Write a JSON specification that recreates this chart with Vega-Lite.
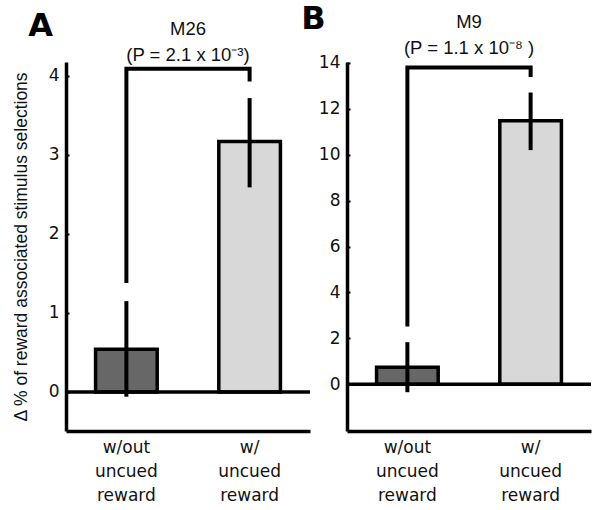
{
  "$schema": "https://vega.github.io/schema/vega-lite/v6.json",
  "padding": {"left": 12, "top": 3, "right": 5, "bottom": 3},
  "spacing": -11,
  "config": {
    "font": "DejaVu Sans",
    "view": {"stroke": null},
    "axis": {"grid": false, "domainColor": "black", "domainWidth": 3.5, "labelColor": "#111", "labelFont": "DejaVu Sans", "labelFontSize": 17, "titleFont": "Liberation Sans", "titleFontSize": 17.5, "titleFontWeight": "normal", "titleColor": "#111"}
  },
  "datasets": {
    "barsA": [
      {"cond": "w/out|uncued|reward", "mean": 0.54, "lo": -0.06, "hi": 1.15},
      {"cond": "w/|uncued|reward", "mean": 3.17, "lo": 2.59, "hi": 3.72}
    ],
    "bracketA": [
      {"cond": "w/out|uncued|reward", "y": 1.38, "ord": 1},
      {"cond": "w/out|uncued|reward", "y": 4.09, "ord": 2},
      {"cond": "w/|uncued|reward", "y": 4.09, "ord": 3},
      {"cond": "w/|uncued|reward", "y": 3.93, "ord": 4}
    ],
    "barsB": [
      {"cond": "w/out|uncued|reward", "mean": 0.74, "lo": -0.35, "hi": 1.83},
      {"cond": "w/|uncued|reward", "mean": 11.48, "lo": 10.2, "hi": 12.71}
    ],
    "bracketB": [
      {"cond": "w/out|uncued|reward", "y": 2.51, "ord": 1},
      {"cond": "w/out|uncued|reward", "y": 13.8, "ord": 2},
      {"cond": "w/|uncued|reward", "y": 13.8, "ord": 3},
      {"cond": "w/|uncued|reward", "y": 13.39, "ord": 4}
    ]
  },
  "hconcat": [
    {
      "title": {"text": "A", "anchor": "start", "frame": "bounds", "font": "DejaVu Sans", "fontSize": 32, "fontWeight": "bold", "color": "black", "offset": -23, "dx": 16},
      "vconcat": [
        {
          "width": 244,
          "height": 369,
          "title": {"text": ["M26", "(P = 2.1 x 10⁻³)"], "anchor": "middle", "frame": "group", "font": "Liberation Sans", "fontSize": 18.5, "fontWeight": "normal", "color": "#111", "lineHeight": 26, "offset": -4},
          "layer": [
            {
              "data": {"name": "barsA"},
              "mark": {"type": "bar", "stroke": "black", "strokeWidth": 3.5},
              "encoding": {
                "x": {"field": "cond", "type": "nominal",
                  "scale": {"domain": ["w/out|uncued|reward", "w/|uncued|reward"], "paddingInner": 0.5, "paddingOuter": 0.24},
                  "axis": {"title": null, "labelAngle": 0, "labelExpr": "split(datum.label, '|')", "labelLineHeight": 24, "labelPadding": 8, "ticks": false}},
                "y": {"field": "mean", "type": "quantitative",
                  "scale": {"domain": [-0.494, 4.177], "nice": false, "zero": false},
                  "axis": {"title": "Δ % of reward associated stimulus selections", "values": [0, 1, 2, 3, 4], "format": "d", "tickSize": -3, "tickWidth": 2, "tickColor": "black", "labelPadding": 10, "titlePadding": 18}},
                "y2": {"datum": 0},
                "fill": {"field": "cond", "type": "nominal", "scale": {"domain": ["w/out|uncued|reward", "w/|uncued|reward"], "range": ["#676767", "#d8d8d8"]}, "legend": null}
              }
            },
            {
              "data": {"values": [{}]},
              "mark": {"type": "rule", "color": "black", "strokeWidth": 3.5},
              "encoding": {"y": {"datum": 0}}
            },
            {
              "data": {"name": "barsA"},
              "mark": {"type": "rule", "color": "black", "strokeWidth": 4},
              "encoding": {
                "x": {"field": "cond", "type": "nominal"},
                "y": {"field": "lo", "type": "quantitative"},
                "y2": {"field": "hi"}
              }
            },
            {
              "data": {"name": "bracketA"},
              "mark": {"type": "line", "color": "black", "strokeWidth": 4, "strokeJoin": "miter", "strokeCap": "butt"},
              "encoding": {
                "x": {"field": "cond", "type": "nominal"},
                "y": {"field": "y", "type": "quantitative"},
                "order": {"field": "ord", "type": "quantitative"}
              }
            }
          ]
        }
      ]
    },
    {
      "title": {"text": "B", "anchor": "start", "frame": "bounds", "font": "DejaVu Sans", "fontSize": 32, "fontWeight": "bold", "color": "black", "offset": -23, "dx": -17},
      "vconcat": [
        {
          "width": 244,
          "height": 369,
          "title": {"text": ["M9", "(P = 1.1 x 10⁻⁸ )"], "anchor": "middle", "frame": "group", "font": "Liberation Sans", "fontSize": 18.5, "fontWeight": "normal", "color": "#111", "lineHeight": 26, "offset": -4},
          "layer": [
            {
              "data": {"name": "barsB"},
              "mark": {"type": "bar", "stroke": "black", "strokeWidth": 3.5},
              "encoding": {
                "x": {"field": "cond", "type": "nominal",
                  "scale": {"domain": ["w/out|uncued|reward", "w/|uncued|reward"], "paddingInner": 0.5, "paddingOuter": 0.24},
                  "axis": {"title": null, "labelAngle": 0, "labelExpr": "split(datum.label, '|')", "labelLineHeight": 24, "labelPadding": 8, "ticks": false}},
                "y": {"field": "mean", "type": "quantitative",
                  "scale": {"domain": [-2.04, 14.04], "nice": false, "zero": false},
                  "axis": {"title": null, "values": [0, 2, 4, 6, 8, 10, 12, 14], "format": "d", "tickSize": -3, "tickWidth": 2, "tickColor": "black", "labelPadding": 10}},
                "y2": {"datum": 0},
                "fill": {"field": "cond", "type": "nominal", "scale": {"domain": ["w/out|uncued|reward", "w/|uncued|reward"], "range": ["#676767", "#d8d8d8"]}, "legend": null}
              }
            },
            {
              "data": {"values": [{}]},
              "mark": {"type": "rule", "color": "black", "strokeWidth": 3.5},
              "encoding": {"y": {"datum": 0}}
            },
            {
              "data": {"name": "barsB"},
              "mark": {"type": "rule", "color": "black", "strokeWidth": 4},
              "encoding": {
                "x": {"field": "cond", "type": "nominal"},
                "y": {"field": "lo", "type": "quantitative"},
                "y2": {"field": "hi"}
              }
            },
            {
              "data": {"name": "bracketB"},
              "mark": {"type": "line", "color": "black", "strokeWidth": 4, "strokeJoin": "miter", "strokeCap": "butt"},
              "encoding": {
                "x": {"field": "cond", "type": "nominal"},
                "y": {"field": "y", "type": "quantitative"},
                "order": {"field": "ord", "type": "quantitative"}
              }
            }
          ]
        }
      ]
    }
  ]
}
